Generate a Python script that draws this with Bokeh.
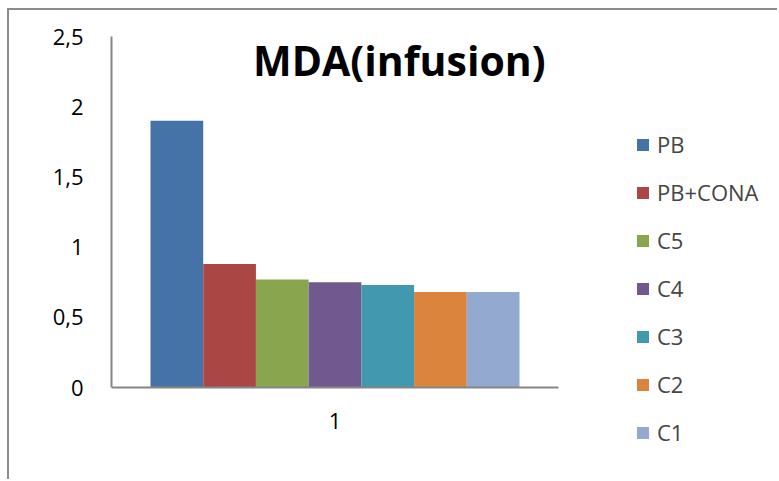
from bokeh.plotting import figure
from bokeh.models import Range1d, FixedTicker, Legend, LegendItem, Label, ColumnDataSource
from bokeh.embed import file_html
from bokeh.resources import INLINE

# ---- data ----
series = ["PB", "PB+CONA", "C5", "C4", "C3", "C2", "C1"]
values = [1.90, 0.88, 0.77, 0.75, 0.73, 0.68, 0.68]
category = "1"
y_ticks = [0, 0.5, 1, 1.5, 2, 2.5]
y_tick_labels = ["0", "0,5", "1", "1,5", "2", "2,5"]
title_text = "MDA(infusion)"

palette = ["#4572A7", "#AA4643", "#89A54E", "#71588F", "#4198AF", "#DB843D", "#93A9CF"]

FONT = "Open Sans"

# frame covers the plot area plus the legend area; axes are bounded to the plot area
x_max = 668 / 447
y_min = -94 / 140.4

p = figure(width=770, height=471, output_backend="svg", toolbar_location=None,
           x_range=Range1d(0, x_max), y_range=Range1d(y_min, 2.5),
           min_border_left=102, min_border_right=0, min_border_top=26, min_border_bottom=0)
p.outline_line_color = None
p.xgrid.visible = False
p.ygrid.visible = False
p.background_fill_color = "white"
p.border_fill_color = "white"

# bars: one category at centre, 7 dodged series
n = len(series)
group_width = 0.8255
bw = group_width / n
center = 0.5
items = []
for i, (name, val) in enumerate(zip(series, values)):
    xc = center - group_width / 2 + bw * (i + 0.5)
    src = ColumnDataSource(dict(x=[xc], top=[val]))
    r = p.vbar(x="x", top="top", bottom=0, width=bw, source=src,
               fill_color=palette[i], line_color=None)
    items.append(LegendItem(label=name, renderers=[r]))

# axes
for ax in (p.xaxis[0], p.yaxis[0]):
    ax.axis_line_color = "#868686"
    ax.axis_line_width = 2
    ax.major_tick_line_color = None
    ax.minor_tick_line_color = None
    ax.major_label_text_font = FONT
    ax.major_label_text_font_size = "22px"
    ax.major_label_text_color = "black"

p.yaxis.ticker = FixedTicker(ticks=y_ticks)
p.yaxis.major_label_overrides = {t: l for t, l in zip(y_ticks, y_tick_labels)}
p.yaxis.major_label_standoff = 22
p.yaxis.bounds = (0, 2.5)
p.xaxis.ticker = FixedTicker(ticks=[center])
p.xaxis.major_label_overrides = {center: category}
p.xaxis.major_label_standoff = 19
p.xaxis.bounds = (0, 1)
p.xaxis.fixed_location = 0

# title inside plot area
p.add_layout(Label(x=0.644, y=2.33, text=title_text, text_font=FONT, text_font_style="bold",
                   text_font_size="41px", text_align="center", text_baseline="middle",
                   text_color="black"))

legend = Legend(items=items, location=(524, 34), orientation="vertical",
                label_text_font=FONT, label_text_font_size="22px",
                glyph_width=15, glyph_height=15, label_height=30, spacing=18,
                label_standoff=7, padding=0, margin=0, border_line_color=None,
                background_fill_alpha=0)
p.add_layout(legend, "center")

p.styles = {"border-left": "2px solid #8c8c8c", "border-top": "2px solid #8c8c8c"}
p.margin = (8, 0, 0, 7)

open("out.html", "w").write(file_html(p, INLINE))
